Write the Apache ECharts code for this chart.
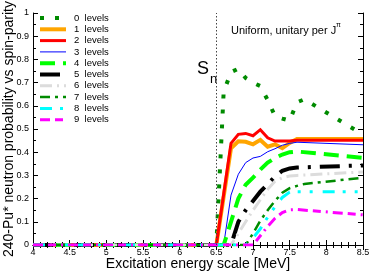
<!DOCTYPE html>
<html>
<head>
<meta charset="utf-8">
<script src="https://cdn.jsdelivr.net/npm/echarts@6/dist/echarts.min.js"></script>
<style>
  html, body { margin: 0; padding: 0; background: #fff; }
  #chart { width: 371px; height: 273px; }
</style>
</head>
<body>
<div id="chart"></div>
<script>
// ---- data ----
const seriesNames = ['0  levels','1  levels','2  levels','3  levels','4  levels','5  levels','6  levels','7  levels','8  levels','9  levels'];
const lev0 = [[4,0],[6.5,0],[6.6,0.66],[6.7,0.745],[6.8,0.76],[6.9,0.72],[7.0,0.70],[7.1,0.685],[7.2,0.625],[7.3,0.556],[7.4,0.545],[7.5,0.536],[7.6,0.615],[7.7,0.628],[8.5,0.476]];
const lev1 = [[4,0],[6.5,0],[6.7,0.417],[6.8,0.447],[6.9,0.445],[7.0,0.434],[7.1,0.453],[7.2,0.424],[7.3,0.434],[7.4,0.417],[7.5,0.44],[7.6,0.457],[8.5,0.457]];
const lev2 = [[4,0],[6.5,0],[6.7,0.438],[6.8,0.477],[6.9,0.481],[7.0,0.471],[7.1,0.497],[7.2,0.462],[7.3,0.448],[7.5,0.448],[7.6,0.452],[8.5,0.452]];
const lev3 = [[4,0],[6.6,0],[6.7,0.215],[6.8,0.305],[6.9,0.355],[7.0,0.375],[7.1,0.382],[7.2,0.402],[7.3,0.415],[7.4,0.43],[7.5,0.438],[7.6,0.443],[8.5,0.432]];
const lev4 = [[4,0],[6.6,0],[6.7,0.10],[6.8,0.20],[6.9,0.26],[7.0,0.29],[7.1,0.325],[7.2,0.355],[7.3,0.375],[7.4,0.39],[7.5,0.40],[7.6,0.403],[8.5,0.376]];
const lev5 = [[4,0],[6.7,0],[6.8,0.10],[6.9,0.15],[7.0,0.19],[7.1,0.23],[7.2,0.262],[7.3,0.295],[7.4,0.32],[7.5,0.33],[7.6,0.334],[8.5,0.343]];
const lev6 = [[4,0],[6.7,0],[6.8,0.05],[6.9,0.10],[7.0,0.15],[7.1,0.195],[7.2,0.24],[7.3,0.275],[7.4,0.29],[7.5,0.297],[7.6,0.30],[8.5,0.315]];
const lev7 = [[4,0],[6.9,0],[7.0,0.05],[7.1,0.105],[7.2,0.15],[7.3,0.19],[7.4,0.225],[7.5,0.245],[7.6,0.255],[7.7,0.263],[8.5,0.29]];
const lev8 = [[4,0],[6.9,0],[7.0,0.03],[7.1,0.07],[7.2,0.12],[7.3,0.165],[7.4,0.205],[7.5,0.228],[7.6,0.23],[8.5,0.23]];
const lev9 = [[4,0],[7.0,0],[7.1,0.04],[7.2,0.08],[7.3,0.115],[7.4,0.14],[7.5,0.152],[7.6,0.153],[8.5,0.13]];
const Sn = 6.5;
const xMin = 4, xMax = 8.5, xStep = 0.5;
const yMin = 0, yMax = 1, yStep = 0.1;

const allData = [lev0, lev1, lev2, lev3, lev4, lev5, lev6, lev7, lev8, lev9];
const styles = [
  { color: '#008b00', width: 4, type: [4, 11] },
  { color: '#ffa500', width: 4, type: 'solid' },
  { color: '#ff0000', width: 3, type: 'solid' },
  { color: '#0000ff', width: 1, type: 'solid' },
  { color: '#00ff00', width: 4, type: [15, 8] },
  { color: '#000000', width: 4, type: [20, 9, 3, 9] },
  { color: '#dcdcdc', width: 3, type: [12, 5, 2, 5] },
  { color: '#008b00', width: 2.5, type: [10, 5, 3, 5] },
  { color: '#00ffff', width: 3, type: [12, 8, 3, 9, 3, 10] },
  { color: '#ff00ff', width: 3, type: [10, 5, 8, 5, 2, 5] }
];

const FONT = 'Liberation Sans, Arial, Helvetica, sans-serif';

const series = allData.map((d, i) => {
  const s = {
    name: seriesNames[i],
    type: 'line',
    data: d,
    symbol: 'none',
    showSymbol: false,
    animation: false,
    color: styles[i].color,
    lineStyle: { color: styles[i].color, width: styles[i].width, type: styles[i].type, cap: 'butt', join: 'miter' }
  };
  if (i === 0) {
    s.markLine = {
      silent: true,
      symbol: ['none', 'none'],
      animation: false,
      label: { show: false },
      lineStyle: { color: '#444', width: 1, type: [1.5, 2] },
      data: [{ xAxis: Sn }]
    };
  }
  return s;
});

const chart = echarts.init(document.getElementById('chart'), null, { renderer: 'canvas' });
const axisCommon = {
  axisLine: { lineStyle: { color: '#000', width: 1 } },
  axisTick: { inside: true, length: 5, lineStyle: { color: '#000' } },
  splitLine: { show: false }
};
chart.setOption({
  backgroundColor: '#fff',
  animation: false,
  grid: { left: 33, right: 8, top: 13, bottom: 28, containLabel: false, outerBoundsMode: 'none' },
  legend: {
    orient: 'vertical',
    left: 38,
    top: 13,
    itemWidth: 26,
    itemHeight: 10,
    itemGap: 1.3,
    padding: 0,
    selectedMode: false,
    lineStyle: { width: 'inherit' },
    itemStyle: { opacity: 0, borderWidth: 0 },
    textStyle: { fontFamily: FONT, fontSize: 9.5, color: '#000', padding: [0, 0, 0, 3] },
    data: seriesNames
  },
  xAxis: [
    Object.assign({}, axisCommon, {
      type: 'value', min: xMin, max: xMax, interval: xStep, position: 'bottom',
      minorTick: { show: true, splitNumber: 5, length: 3, lineStyle: { color: '#000' } },
      axisLabel: { fontFamily: FONT, fontSize: 9, color: '#000', margin: 3 },
      name: 'Excitation energy scale [MeV]', nameLocation: 'middle', nameGap: 12,
      nameMoveOverlap: false,
      nameTextStyle: { fontFamily: FONT, fontSize: 14, color: '#000', verticalAlign: 'top' }
    }),
    Object.assign({}, axisCommon, {
      type: 'value', min: xMin, max: xMax, interval: xStep, position: 'top',
      minorTick: { show: true, splitNumber: 5, length: 3, lineStyle: { color: '#000' } },
      axisLabel: { show: false }
    })
  ],
  yAxis: [
    Object.assign({}, axisCommon, {
      type: 'value', min: yMin, max: yMax, interval: yStep, position: 'left',
      minorTick: { show: true, splitNumber: 2, length: 3, lineStyle: { color: '#000' } },
      axisLabel: { fontFamily: FONT, fontSize: 9, color: '#000', margin: 4 },
      name: '240-Pu* neutron probability vs spin-parity', nameLocation: 'middle', nameGap: 17,
      nameRotate: 90, nameMoveOverlap: false,
      nameTextStyle: { fontFamily: FONT, fontSize: 14, color: '#000', verticalAlign: 'bottom' }
    }),
    Object.assign({}, axisCommon, {
      type: 'value', min: yMin, max: yMax, interval: yStep, position: 'right',
      minorTick: { show: true, splitNumber: 2, length: 3, lineStyle: { color: '#000' } },
      axisLabel: { show: false }
    })
  ],
  graphic: [
    { type: 'text', left: 197, top: 60, silent: true,
      style: { text: 'S', fontFamily: FONT, fontSize: 18, fill: '#000' } },
    { type: 'text', left: 210, top: 73, silent: true,
      style: { text: 'n', fontFamily: FONT, fontSize: 13, fill: '#000' } },
    { type: 'text', left: 231, top: 25, silent: true,
      style: { text: 'Uniform, unitary per J', fontFamily: FONT, fontSize: 11, fill: '#000' } },
    { type: 'text', left: 336, top: 22, silent: true,
      style: { text: 'π', fontFamily: FONT, fontSize: 7, fill: '#000' } }
  ],
  series: series
});
</script>
</body>
</html>
